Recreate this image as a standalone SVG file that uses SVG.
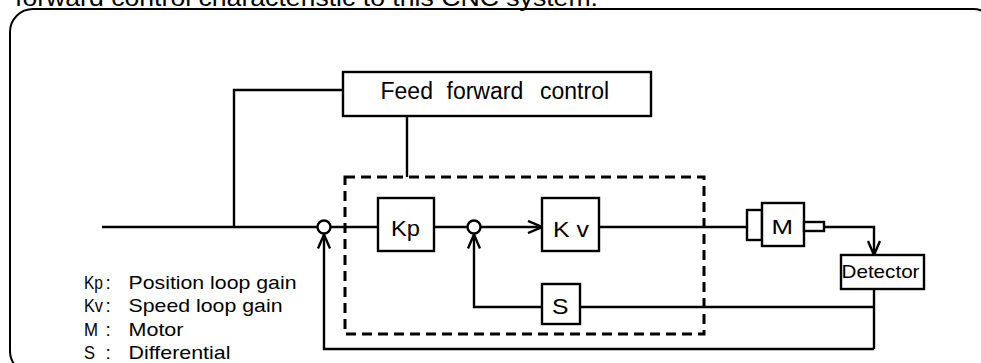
<svg xmlns="http://www.w3.org/2000/svg" width="981" height="363" viewBox="0 0 981 363">
  <style>
    .ln { fill: none; stroke: #000; stroke-width: 2.4; }
    .box { fill: #fff; stroke: #000; stroke-width: 2.4; }
    .dash { fill: none; stroke: #000; stroke-width: 3; stroke-dasharray: 10 6; }
    .t { font-family: "Liberation Sans", Arial, sans-serif; fill: #000; }
    .lg { font-size: 19px; }
    .bl { font-size: 21.5px; }
  </style>
  <defs>
    <marker id="arr" markerUnits="userSpaceOnUse" viewBox="0 0 16 14" refX="15" refY="7" markerWidth="16" markerHeight="14" orient="auto">
      <path d="M1,1 L15,7 L1,13" fill="none" stroke="#000" stroke-width="2.4"/>
    </marker>
  </defs>
  <rect width="981" height="363" fill="#fff"/>

  <text id="title" class="t" x="15" y="6" font-size="24" textLength="583" lengthAdjust="spacingAndGlyphs">forward control characteristic to this CNC system.</text>

  <g id="frame">
    <rect x="10" y="9" width="986" height="365" rx="23" ry="23" fill="none" stroke="#000" stroke-width="2"/>
  </g>

  <g id="controller-boundary">
    <rect x="345" y="177" width="359" height="157" class="dash"/>
  </g>

  <g id="connectors">
    <path class="ln" d="M102,227 H317.5"/>
    <path class="ln" d="M234,227 V90 H343"/>
    <path class="ln" d="M407,116 V177"/>
    <path class="ln" d="M330.5,227 H378"/>
    <path class="ln" d="M434,227 H467.5"/>
    <path class="ln" d="M480.5,227 H542" marker-end="url(#arr)"/>
    <path class="ln" d="M599,227 H747"/>
    <path class="ln" d="M824,227 H874 V255" marker-end="url(#arr)"/>
    <path class="ln" d="M874,289 V349"/>
    <path class="ln" d="M874,307 H580"/>
    <path class="ln" d="M542,307 H474 V234.5" marker-end="url(#arr)"/>
    <path class="ln" d="M874,349 H324 V234.5" marker-end="url(#arr)"/>
  </g>

  <g id="feed-forward">
    <rect x="343" y="72" width="308" height="44" class="box"/>
    <text class="t" y="99" font-size="23"><tspan x="380.5">Feed</tspan><tspan x="446.5">forward</tspan><tspan x="540">control</tspan></text>
  </g>

  <g id="sum1">
    <circle cx="324" cy="227" r="6.5" class="box"/>
  </g>

  <g id="kp">
    <rect x="378" y="198" width="56" height="53" class="box"/>
    <text class="t bl" x="391" y="235.5" textLength="29" lengthAdjust="spacingAndGlyphs">Kp</text>
  </g>

  <g id="sum2">
    <circle cx="474" cy="227" r="6.5" class="box"/>
  </g>

  <g id="kv">
    <rect x="542" y="198" width="57" height="53" class="box"/>
    <text class="t bl" x="553" y="237" textLength="36" lengthAdjust="spacingAndGlyphs">K v</text>
  </g>

  <g id="s">
    <rect x="542" y="284" width="38" height="40" class="box"/>
    <text class="t bl" x="552" y="313.5" textLength="16.5" lengthAdjust="spacingAndGlyphs">S</text>
  </g>

  <g id="motor">
    <rect x="747" y="210" width="15" height="30" class="box"/>
    <rect x="762" y="203" width="42" height="43" class="box"/>
    <rect x="804" y="222" width="20" height="9" class="box"/>
    <text class="t" x="771.5" y="234" font-size="20" textLength="21.5" lengthAdjust="spacingAndGlyphs">M</text>
  </g>

  <g id="detector">
    <rect x="841" y="255" width="83" height="34" class="box"/>
    <text class="t" x="841.5" y="277.5" font-size="18.5" textLength="78" lengthAdjust="spacingAndGlyphs">Detector</text>
  </g>

  <g id="legend" class="t lg">
    <text x="84" y="288.5" textLength="19" lengthAdjust="spacingAndGlyphs">Kp</text>
    <text x="105.5" y="288.5">:</text>
    <text x="128.5" y="288.5" textLength="168" lengthAdjust="spacingAndGlyphs">Position loop gain</text>
    <text x="84" y="312" textLength="19" lengthAdjust="spacingAndGlyphs">Kv</text>
    <text x="105.5" y="312">:</text>
    <text x="128.5" y="312" textLength="154" lengthAdjust="spacingAndGlyphs">Speed loop gain</text>
    <text x="84" y="335.5" textLength="14" lengthAdjust="spacingAndGlyphs">M</text>
    <text x="105.5" y="335.5">:</text>
    <text x="128.5" y="335.5" textLength="55" lengthAdjust="spacingAndGlyphs">Motor</text>
    <text x="84" y="359" textLength="11" lengthAdjust="spacingAndGlyphs">S</text>
    <text x="105.5" y="359">:</text>
    <text x="128.5" y="359" textLength="102" lengthAdjust="spacingAndGlyphs">Differential</text>
  </g>
</svg>
